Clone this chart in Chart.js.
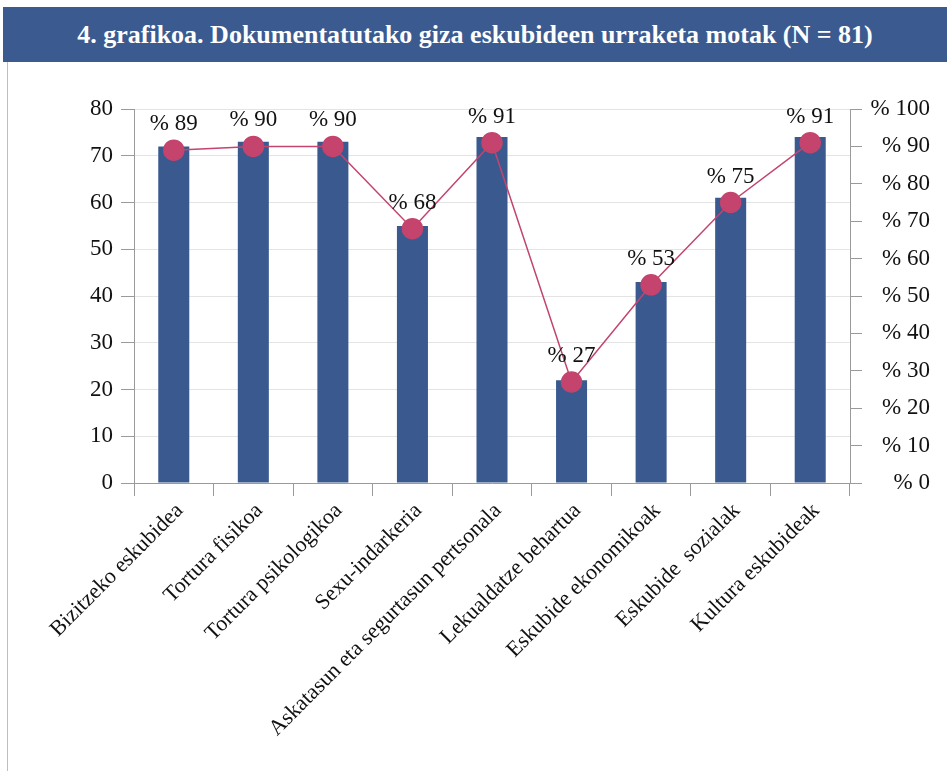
<!DOCTYPE html>
<html>
<head>
<meta charset="utf-8">
<script src="https://cdn.jsdelivr.net/npm/chart.js@4.4.0/dist/chart.umd.min.js"></script>
<style>
  body { margin: 0; background: #fff; width: 947px; height: 771px; overflow: hidden; position: relative; }
  .title {
    position: absolute; left: 3px; top: 7px; width: 944px; height: 55px;
    background: #3b5a8f; color: #fff; text-align: center;
    font: bold 26px 'Liberation Serif', serif;
    line-height: 55px;
  }
  .frame { position: absolute; left: 7px; top: 62px; width: 1px; height: 709px; background: #b4bfd6; }
  #chart { position: absolute; left: 0; top: 62px; }
</style>
</head>
<body>
<div class="title">4. grafikoa. Dokumentatutako giza eskubideen urraketa motak (N = 81)</div>
<div class="frame"></div>
<canvas id="chart" width="947" height="709"></canvas>
<script>
// datuak
const categories = [
  'Bizitzeko eskubidea',
  'Tortura fisikoa',
  'Tortura psikologikoa',
  'Sexu-indarkeria',
  'Askatasun eta segurtasun pertsonala',
  'Lekualdatze behartua',
  'Eskubide ekonomikoak',
  'Eskubide  sozialak',
  'Kultura eskubideak'
];
const counts = [72, 73, 73, 55, 74, 22, 43, 61, 74];
const percents = [89, 90, 90, 68, 91, 27, 53, 75, 91];
const countMax = 80;
const percentMax = 100;

const serif = "'Liberation Serif', serif";
const axisGray = '#9a9a9a';

// portzentaje etiketak puntuen gainean
const pointLabels = {
  id: 'pointLabels',
  afterDatasetsDraw(chart) {
    const meta = chart.getDatasetMeta(1);
    const c = chart.ctx;
    c.save();
    c.font = `23px ${serif}`;
    c.fillStyle = '#111';
    c.textAlign = 'center';
    c.textBaseline = 'alphabetic';
    meta.data.forEach((pt, i) => {
      c.fillText('% ' + percents[i], pt.x, pt.y - 20);
    });
    c.restore();
  }
};

new Chart(document.getElementById('chart'), {
  data: {
    labels: categories,
    datasets: [
      {
        type: 'bar',
        data: counts,
        yAxisID: 'y',
        backgroundColor: '#3a5a8f',
        barPercentage: 0.39,
        categoryPercentage: 1,
        order: 2
      },
      {
        type: 'line',
        data: percents,
        yAxisID: 'y1',
        borderColor: '#c4446d',
        borderWidth: 1.5,
        pointRadius: 10,
        pointBackgroundColor: '#c4446d',
        pointBorderColor: '#c4446d',
        tension: 0,
        order: 1
      }
    ]
  },
  options: {
    responsive: false,
    animation: false,
    layout: { padding: { top: 47, left: 0, right: 17, bottom: 0 } },
    plugins: { legend: { display: false }, tooltip: { enabled: false } },
    scales: {
      x: {
        grid: { offset: true, drawOnChartArea: false, color: axisGray, tickLength: 13 },
        border: { color: axisGray },
        ticks: {
          minRotation: 45, maxRotation: 45, color: '#111',
          font: { family: serif, size: 22 }, padding: 2, labelOffset: 6
        },
        afterFit: s => { s.height = 288; }
      },
      y: {
        position: 'left',
        min: 0, max: countMax,
        ticks: { stepSize: 10, color: '#111', font: { family: serif, size: 23 }, padding: 8 },
        grid: { color: '#e4e4e4', tickColor: axisGray, tickLength: 13 },
        border: { color: axisGray },
        afterFit: s => { s.width = 134; }
      },
      y1: {
        position: 'right',
        min: 0, max: percentMax,
        ticks: {
          stepSize: 10, color: '#111', font: { family: serif, size: 23 }, padding: 10,
          crossAlign: 'far', callback: v => '% ' + v
        },
        grid: { drawOnChartArea: false, color: axisGray, tickLength: 12 },
        border: { color: axisGray },
        afterFit: s => { s.width = 80; }
      }
    }
  },
  plugins: [pointLabels]
});
</script>
</body>
</html>
